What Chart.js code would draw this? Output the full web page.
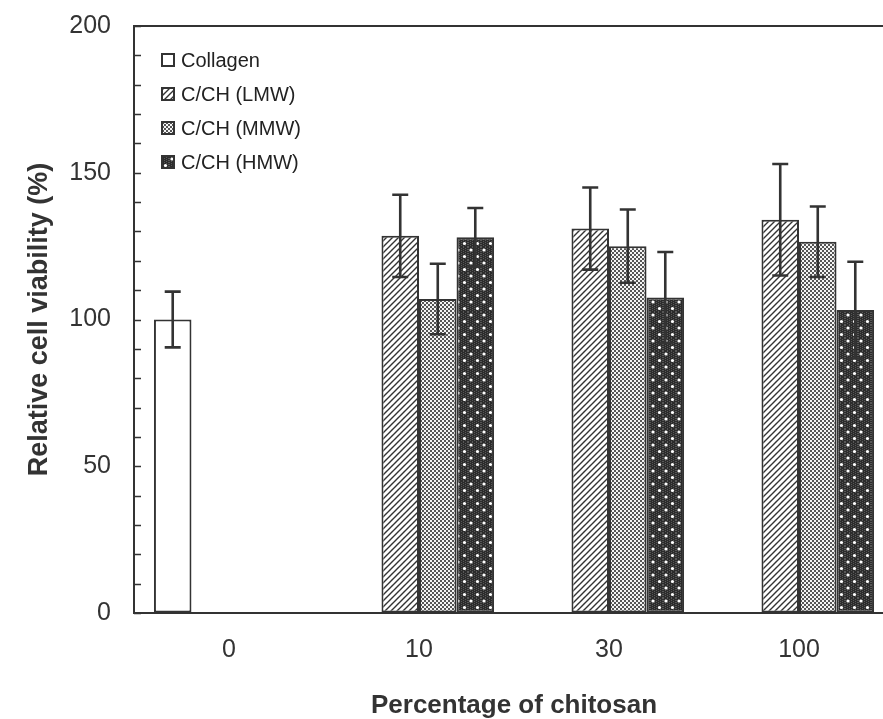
<!DOCTYPE html>
<html>
<head>
<meta charset="utf-8">
<title>Relative cell viability</title>
<script src="https://cdn.jsdelivr.net/npm/chart.js@4.4.1/dist/chart.umd.min.js"></script>
<style>
  html, body { margin: 0; padding: 0; background: #fff; overflow: hidden; }
  #wrap { position: relative; width: 900px; height: 719px; }
</style>
</head>
<body>
<div id="wrap"><canvas id="viability"></canvas></div>
<script>
// chitosan content groups and viability (% of control), mean and SD
const chitosanPct = ['0', '10', '30', '100'];
const seriesNames = ['Collagen', 'C/CH (LMW)', 'C/CH (MMW)', 'C/CH (HMW)'];
const collagenMean = [100, null, null, null];
const collagenSd = [9.5, null, null, null];
const lmwMean = [null, 128.5, 131, 134];
const lmwSd = [null, 14, 14, 19];
const mmwMean = [null, 107, 125, 126.5];
const mmwSd = [null, 12, 12.5, 12];
const hmwMean = [null, 128, 107.5, 103.2];
const hmwSd = [null, 10, 15.5, 16.5];

const INK = '#333';
const FONT = "'Liberation Sans', Arial, sans-serif";

// small tiles used as bar fills
function makeTile(size, draw) {
  const c = document.createElement('canvas');
  c.width = size; c.height = size;
  draw(c.getContext('2d'), size);
  return document.createElement('canvas').getContext('2d').createPattern(c, 'repeat');
}

const plainFill = '#ffffff';

const hatchFill = makeTile(6, (g, s) => {
  g.fillStyle = '#fff';
  g.fillRect(0, 0, s, s);
  g.strokeStyle = INK;
  g.lineWidth = 1.4;
  g.beginPath();
  g.moveTo(-1, s + 1); g.lineTo(s + 1, -1);
  g.moveTo(-1, 1); g.lineTo(1, -1);
  g.moveTo(s - 1, s + 1); g.lineTo(s + 1, s - 1);
  g.stroke();
});

const meshFill = makeTile(4, (g, s) => {
  g.fillStyle = '#f4f4f4';
  g.fillRect(0, 0, s, s);
  g.fillStyle = '#555';
  g.fillRect(0, 0, 2, 2);
  g.fillRect(2, 2, 2, 2);
});

const darkDotFill = makeTile(13, (g, s) => {
  g.fillStyle = '#2c2c2c';
  g.fillRect(0, 0, s, s);
  g.fillStyle = '#575757';
  for (let x = 0; x < s; x += 2) {
    for (let y = (x % 4) / 2; y < s; y += 2) g.fillRect(x, y, 1, 1);
  }
  g.fillStyle = '#fff';
  g.beginPath(); g.arc(3, 3, 1.6, 0, Math.PI * 2); g.fill();
  g.beginPath(); g.arc(9.5, 9.5, 1.6, 0, Math.PI * 2); g.fill();
});

const means = [collagenMean, lmwMean, mmwMean, hmwMean];
const sds = [collagenSd, lmwSd, mmwSd, hmwSd];
const fills = [plainFill, hatchFill, meshFill, darkDotFill];

// top frame line and inward tick marks on the y axis
const framePlugin = {
  id: 'frame',
  afterDraw(chart) {
    const { ctx, chartArea: a, scales: { y } } = chart;
    ctx.save();
    ctx.strokeStyle = INK;
    ctx.lineWidth = 2;
    ctx.beginPath();
    ctx.moveTo(a.left - 1, a.top);
    ctx.lineTo(a.right, a.top);
    ctx.stroke();
    ctx.lineWidth = 1.6;
    ctx.beginPath();
    y.ticks.forEach(t => {
      const py = Math.round(y.getPixelForValue(t.value)) + 0.5;
      ctx.moveTo(a.left, py);
      ctx.lineTo(a.left + 7, py);
    });
    ctx.stroke();
    ctx.restore();
  }
};

// SD whiskers drawn over each bar
const errorBarPlugin = {
  id: 'errorBars',
  afterDatasetsDraw(chart) {
    const { ctx, scales: { y } } = chart;
    ctx.save();
    ctx.strokeStyle = INK;
    ctx.lineWidth = 2.6;
    chart.data.datasets.forEach((ds, i) => {
      const meta = chart.getDatasetMeta(i);
      ds.data.forEach((v, j) => {
        if (v == null) return;
        const sd = sds[i][j];
        const x = meta.data[j].x;
        const top = y.getPixelForValue(v + sd);
        const bot = y.getPixelForValue(v - sd);
        ctx.beginPath();
        ctx.moveTo(x, top); ctx.lineTo(x, bot);
        ctx.moveTo(x - 8, top); ctx.lineTo(x + 8, top);
        ctx.moveTo(x - 8, bot); ctx.lineTo(x + 8, bot);
        ctx.stroke();
      });
    });
    ctx.restore();
  }
};

// legend in the upper-left corner of the plot
const insetLegend = {
  id: 'insetLegend',
  afterDraw(chart) {
    const { ctx, chartArea: a } = chart;
    ctx.save();
    ctx.font = '20px ' + FONT;
    ctx.textBaseline = 'middle';
    chart.data.datasets.forEach((ds, i) => {
      const cy = a.top + 34 + i * 34;
      const bx = a.left + 28;
      ctx.fillStyle = ds.backgroundColor;
      ctx.fillRect(bx, cy - 6, 12, 12);
      ctx.strokeStyle = INK;
      ctx.lineWidth = 2;
      ctx.strokeRect(bx, cy - 6, 12, 12);
      ctx.fillStyle = '#222';
      ctx.fillText(ds.label, bx + 19, cy + 1);
    });
    ctx.restore();
  }
};

new Chart(document.getElementById('viability'), {
  type: 'bar',
  data: {
    labels: chitosanPct,
    datasets: seriesNames.map((name, i) => ({
      label: name,
      data: means[i],
      backgroundColor: fills[i],
      borderColor: INK,
      borderWidth: 2,
      borderSkipped: false,
      categoryPercentage: 0.79,
      barPercentage: 1.0
    }))
  },
  options: {
    responsive: true,
    maintainAspectRatio: false,
    animation: false,
    layout: { padding: { top: 26, right: 6, left: 0, bottom: 0 } },
    plugins: {
      legend: { display: false },
      tooltip: { enabled: false }
    },
    scales: {
      x: {
        grid: { drawOnChartArea: false, drawTicks: false },
        border: { display: true, color: INK, width: 2 },
        ticks: { color: '#333', font: { family: FONT, size: 25 }, padding: 22 },
        title: {
          display: true,
          text: 'Percentage of chitosan',
          color: '#333',
          font: { family: FONT, size: 26, weight: 'bold', lineHeight: 1 },
          padding: { top: 0, bottom: 0 }
        },
        afterFit(scale) {
          scale.height = 106;
          scale.paddingLeft = 0;
          scale.paddingRight = 0;
        }
      },
      y: {
        min: 0,
        max: 200,
        grid: { drawOnChartArea: false, drawTicks: false },
        border: { display: true, color: INK, width: 2 },
        ticks: {
          stepSize: 10,
          autoSkip: false,
          color: '#333',
          font: { family: FONT, size: 25 },
          padding: 23,
          callback: v => (v % 50 === 0 ? v : '')
        },
        title: {
          display: true,
          text: 'Relative cell viability (%)',
          color: '#333',
          font: { family: FONT, size: 27, weight: 'bold', lineHeight: 1 },
          padding: { top: 26, bottom: 0 }
        },
        afterFit(scale) {
          scale.width = 134;
          scale.paddingTop = 0;
          scale.paddingBottom = 0;
        }
      }
    }
  },
  plugins: [framePlugin, errorBarPlugin, insetLegend]
});
</script>
</body>
</html>
